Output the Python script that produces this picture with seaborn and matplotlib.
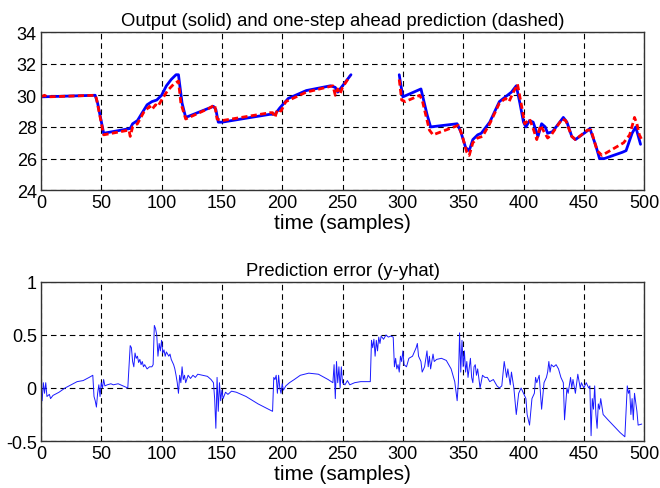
import numpy as np
import pandas as pd
import matplotlib
matplotlib.use("Agg")
import matplotlib.pyplot as plt
import seaborn as sns

# ---- data ----
# measured output y (solid blue), two segments (gap between)
t_y_a = [0, 45, 47, 52, 74, 76, 80, 88, 92, 96, 100, 104, 108, 112, 114, 117, 120,
         143, 145, 147, 150, 190, 194, 198, 205, 220, 240, 244, 246, 249, 252, 257]
y_a = [29.9, 30.0, 29.5, 27.6, 27.9, 28.2, 28.4, 29.4, 29.6, 29.7, 30.0, 30.6, 31.0, 31.3, 31.3, 29.5, 28.6,
       29.3, 29.1, 28.3, 28.3, 28.8, 28.8, 29.2, 29.8, 30.3, 30.6, 30.5, 30.2, 30.5, 30.8, 31.3]
t_y_b = [297, 298, 300, 315, 320, 323, 345, 348, 352, 355, 358, 362, 365, 372, 380, 385, 390, 394,
         397, 400, 402, 405, 408, 412, 415, 418, 420, 424, 433, 436, 440, 443, 452, 455, 460, 463,
         467, 482, 485, 490, 493, 497]
y_b = [31.3, 30.8, 29.9, 30.4, 28.8, 28.0, 28.2, 27.7, 26.7, 26.5, 27.2, 27.5, 27.6, 28.3, 29.6, 29.9, 30.2, 30.6,
       29.5, 28.3, 28.0, 28.4, 28.3, 27.4, 28.2, 28.0, 27.6, 27.7, 28.6, 28.3, 27.4, 27.2, 27.7, 27.9, 26.8, 26.0,
       26.0, 26.4, 26.5, 27.6, 28.0, 26.9]

# one-step ahead prediction yhat (dashed red)
t_p_a = [0, 3, 5, 45, 46, 52, 73, 74, 76, 80, 85, 90, 92, 95, 97, 100, 105, 110, 114, 116, 120,
         140, 144, 146, 150, 190, 192, 194, 196, 199, 203, 220, 242, 244, 246, 248, 250, 256]
p_a = [29.9, 30.0, 29.9, 30.0, 29.8, 27.5, 27.8, 27.4, 28.0, 28.2, 28.9, 29.3, 29.1, 29.4, 29.3, 29.7, 30.3, 30.7, 30.9, 29.5, 28.5,
       29.2, 29.4, 28.5, 28.4, 28.9, 28.9, 28.6, 29.1, 29.0, 29.6, 30.2, 30.6, 30.0, 30.4, 30.1, 30.5, 31.2]
t_p_b = [297, 299, 302, 314, 316, 322, 325, 346, 349, 353, 355, 358, 362, 366, 372, 380, 385, 388, 391, 395,
         398, 401, 405, 408, 411, 414, 417, 420, 423, 432, 435, 440, 443, 453, 456, 461, 465, 483, 488,
         492, 494, 496, 498]
p_b = [31.0, 29.7, 29.6, 30.0, 29.7, 27.8, 27.5, 28.1, 27.5, 26.4, 26.2, 27.0, 27.3, 27.4, 28.2, 29.5, 29.8, 29.6, 30.1, 30.7,
       29.5, 28.2, 28.5, 27.9, 27.2, 28.1, 27.7, 27.3, 27.5, 28.5, 28.4, 27.4, 27.2, 27.8, 27.8, 26.5, 26.2, 27.0, 27.5,
       28.6, 28.2, 27.5, 27.2]

# prediction error y - yhat
t_err = [0, 1, 2, 3, 4, 5, 7, 8, 10, 15, 20, 25, 30, 35, 40, 43, 44, 45, 46, 47, 48, 49, 50, 51, 52, 53, 55, 58, 60, 64, 68, 72,
         74, 75, 76, 77, 78, 79, 80, 81, 82, 83, 84, 85, 86, 88, 90, 92, 93, 94, 95, 96, 97, 98, 99, 100, 101, 102, 103, 104,
         106, 107, 108, 110, 111, 112, 113, 114, 115, 116, 117, 118, 119, 120, 122, 124, 126, 128, 130, 134, 138, 141, 143,
         144, 145, 146, 147, 148, 149, 150, 151, 153, 155, 158, 162, 170, 180, 192, 193, 194, 195, 196, 197, 198, 199, 200,
         201, 203, 206, 210, 215, 222, 230, 238, 242, 243, 244, 245, 246, 247, 248, 249, 250, 252, 254, 256, 260, 265, 270,
         273, 274, 275, 276, 277, 278, 279, 280, 281, 282, 284, 286, 288, 290, 292, 293, 294, 295, 296, 297, 298, 299, 300,
         301, 303, 305, 308, 311, 312, 313, 315, 316, 318, 320, 321, 322, 323, 325, 326, 328, 332, 336, 340, 343, 345, 346,
         347, 348, 349, 350, 351, 352, 353, 354, 356, 357, 358, 359, 360, 361, 362, 364, 366, 368, 370, 372, 375, 378, 380,
         382, 384, 386, 387, 389, 390, 392, 394, 396, 398, 400, 402, 403, 405, 407, 409, 410, 411, 413, 415, 417, 419, 420,
         421, 422, 423, 425, 427, 429, 431, 433, 434, 436, 437, 439, 440, 441, 443, 445, 447, 448, 450, 452, 454, 455, 456,
         457, 458, 459, 460, 461, 462, 463, 464, 466, 470, 475, 480, 484, 486, 487, 488, 489, 490, 491, 492, 494, 495, 498]
err = [0.0, -0.12, 0.05, -0.05, 0.05, -0.08, -0.06, -0.1, -0.07, -0.04, 0.0, 0.03, 0.06, 0.07, 0.1, 0.12, -0.08, -0.12,
       -0.18, -0.05, 0.03, -0.08, 0.05, 0.0, 0.08, 0.02, 0.03, 0.04, 0.03, 0.04, 0.02, 0.0,
       0.4, 0.38, 0.25, 0.2, 0.33, 0.28, 0.3, 0.24, 0.27, 0.22, 0.25, 0.2, 0.22, 0.18, 0.2, 0.2, 0.22, 0.59, 0.56, 0.5, 0.3,
       0.42, 0.35, 0.45, 0.33, 0.36, 0.3, 0.34,
       0.3, 0.32, 0.27, 0.22, 0.18, 0.12, 0.05, -0.05, 0.12, 0.05, 0.2, 0.08, 0.12, 0.05, 0.12, 0.09, 0.12, 0.1, 0.13, 0.12,
       0.11, 0.08, 0.05,
       -0.1, -0.38, 0.1, -0.22, 0.05, -0.12, -0.02, -0.1, -0.04, -0.06, -0.03, -0.04, -0.08, -0.15, -0.22, 0.1, 0.08, 0.12,
       -0.05, 0.12, 0.0, -0.05, 0.04,
       -0.02, 0.02, 0.05, 0.08, 0.12, 0.14, 0.13, 0.08, 0.05, 0.22, -0.1, 0.25, 0.05, 0.2, 0.0, 0.2, 0.05, 0.03, 0.07, 0.03,
       0.05, 0.06, 0.06,
       0.06, 0.45, 0.38, 0.46, 0.3, 0.45, 0.35, 0.48, 0.42, 0.49, 0.46, 0.5, 0.48, 0.49, 0.48, 0.2, 0.28, 0.18, 0.22, 0.15,
       0.3, 0.25, 0.35,
       0.22, 0.2, 0.28, 0.3, 0.38, 0.42, 0.3, 0.25, 0.15, 0.2, 0.35, 0.2, 0.3, 0.18, 0.32, 0.25, 0.27, 0.28, 0.26, 0.18,
       0.06, -0.12, 0.05,
       0.52, 0.15, 0.45, 0.2, 0.35, 0.15, 0.25, 0.1, 0.28, 0.1, 0.05, 0.2, 0.22, 0.12, 0.18, 0.0, 0.12, 0.1, 0.1, 0.06,
       0.08, 0.02, 0.0,
       0.02, 0.25, 0.1, 0.18, 0.03, 0.15, 0.0, -0.25, -0.05, 0.0, -0.05, -0.1, -0.25, -0.35, -0.1, -0.05, 0.1, 0.05, 0.12,
       -0.2, 0.05, 0.1, 0.15,
       0.25, 0.15, 0.22, 0.2, 0.22, 0.18, 0.1, 0.05, -0.3, 0.0, -0.05, 0.1, 0.0, 0.08, -0.05, 0.13, 0.0, 0.05, 0.0, 0.05,
       0.0, 0.02, -0.45,
       -0.1, -0.2, 0.02, -0.25, -0.38, -0.15, -0.2, -0.1, -0.25, -0.3, -0.36, -0.42, -0.46, 0.02, -0.05, -0.02, -0.25,
       -0.1, -0.3, -0.05, -0.22, -0.35, -0.34]

x_ticks = [0, 50, 100, 150, 200, 250, 300, 350, 400, 450, 500]
y1_ticks = [24, 26, 28, 30, 32, 34]
y2_ticks = [-0.5, 0, 0.5, 1]
y2_labels = ["-0.5", "0", "0.5", "1"]
title_top = "Output (solid) and one-step ahead prediction (dashed)"
title_bot = "Prediction error (y-yhat)"
xlab = "time (samples)"

# ---- frames ----
df_y = pd.DataFrame({"t": t_y_a + t_y_b, "v": y_a + y_b,
                     "seg": [0] * len(t_y_a) + [1] * len(t_y_b)})
df_p = pd.DataFrame({"t": t_p_a + t_p_b, "v": p_a + p_b,
                     "seg": [0] * len(t_p_a) + [1] * len(t_p_b)})
df_e = pd.DataFrame({"t": t_err, "v": err})

sns.set_style("white")
plt.rcParams["font.family"] = ["Liberation Sans", "DejaVu Sans"]
plt.rcParams["text.color"] = "black"
plt.rcParams["xtick.color"] = "black"
plt.rcParams["ytick.color"] = "black"
plt.rcParams["axes.labelcolor"] = "black"

fig = plt.figure(figsize=(6.6, 4.89), dpi=100)
ax1 = fig.add_axes([0.062, 0.609, 0.914, 0.3235])
ax2 = fig.add_axes([0.062, 0.0961, 0.914, 0.3252])

sns.lineplot(data=df_y, x="t", y="v", units="seg", estimator=None, ax=ax1,
             color="#0000ff", linewidth=2.0, sort=False)
sns.lineplot(data=df_p, x="t", y="v", units="seg", estimator=None, ax=ax1,
             color="#ff0000", linewidth=2.0, sort=False, dashes=False,
             linestyle=(0, (2.2, 1.2)))
sns.lineplot(data=df_e, x="t", y="v", estimator=None, ax=ax2,
             color="#1a1aff", linewidth=0.7, sort=False)

for ax, yt, title in [(ax1, y1_ticks, title_top), (ax2, y2_ticks, title_bot)]:
    ax.set_xlim(0, 500)
    ax.set_ylim(yt[0], yt[-1])
    ax.set_xticks(x_ticks)
    ax.set_yticks(yt)
    ax.grid(True, color="black", linestyle=(0, (5, 3.5)), linewidth=0.8)
    ax.set_axisbelow(True)
    for s in ax.spines.values():
        s.set_color("#333333")
        s.set_linewidth(1.0)
        s.set_visible(True)
    ax.tick_params(axis="both", labelsize=13, direction="in", length=3,
                   color="#333333", pad=3)
    ax.set_title(title, fontsize=13.3, pad=5)
    ax.set_xlabel(xlab, fontsize=15, labelpad=1)
    ax.set_ylabel("")

ax2.set_yticklabels(y2_labels)

fig.savefig("out.png", dpi=100)
